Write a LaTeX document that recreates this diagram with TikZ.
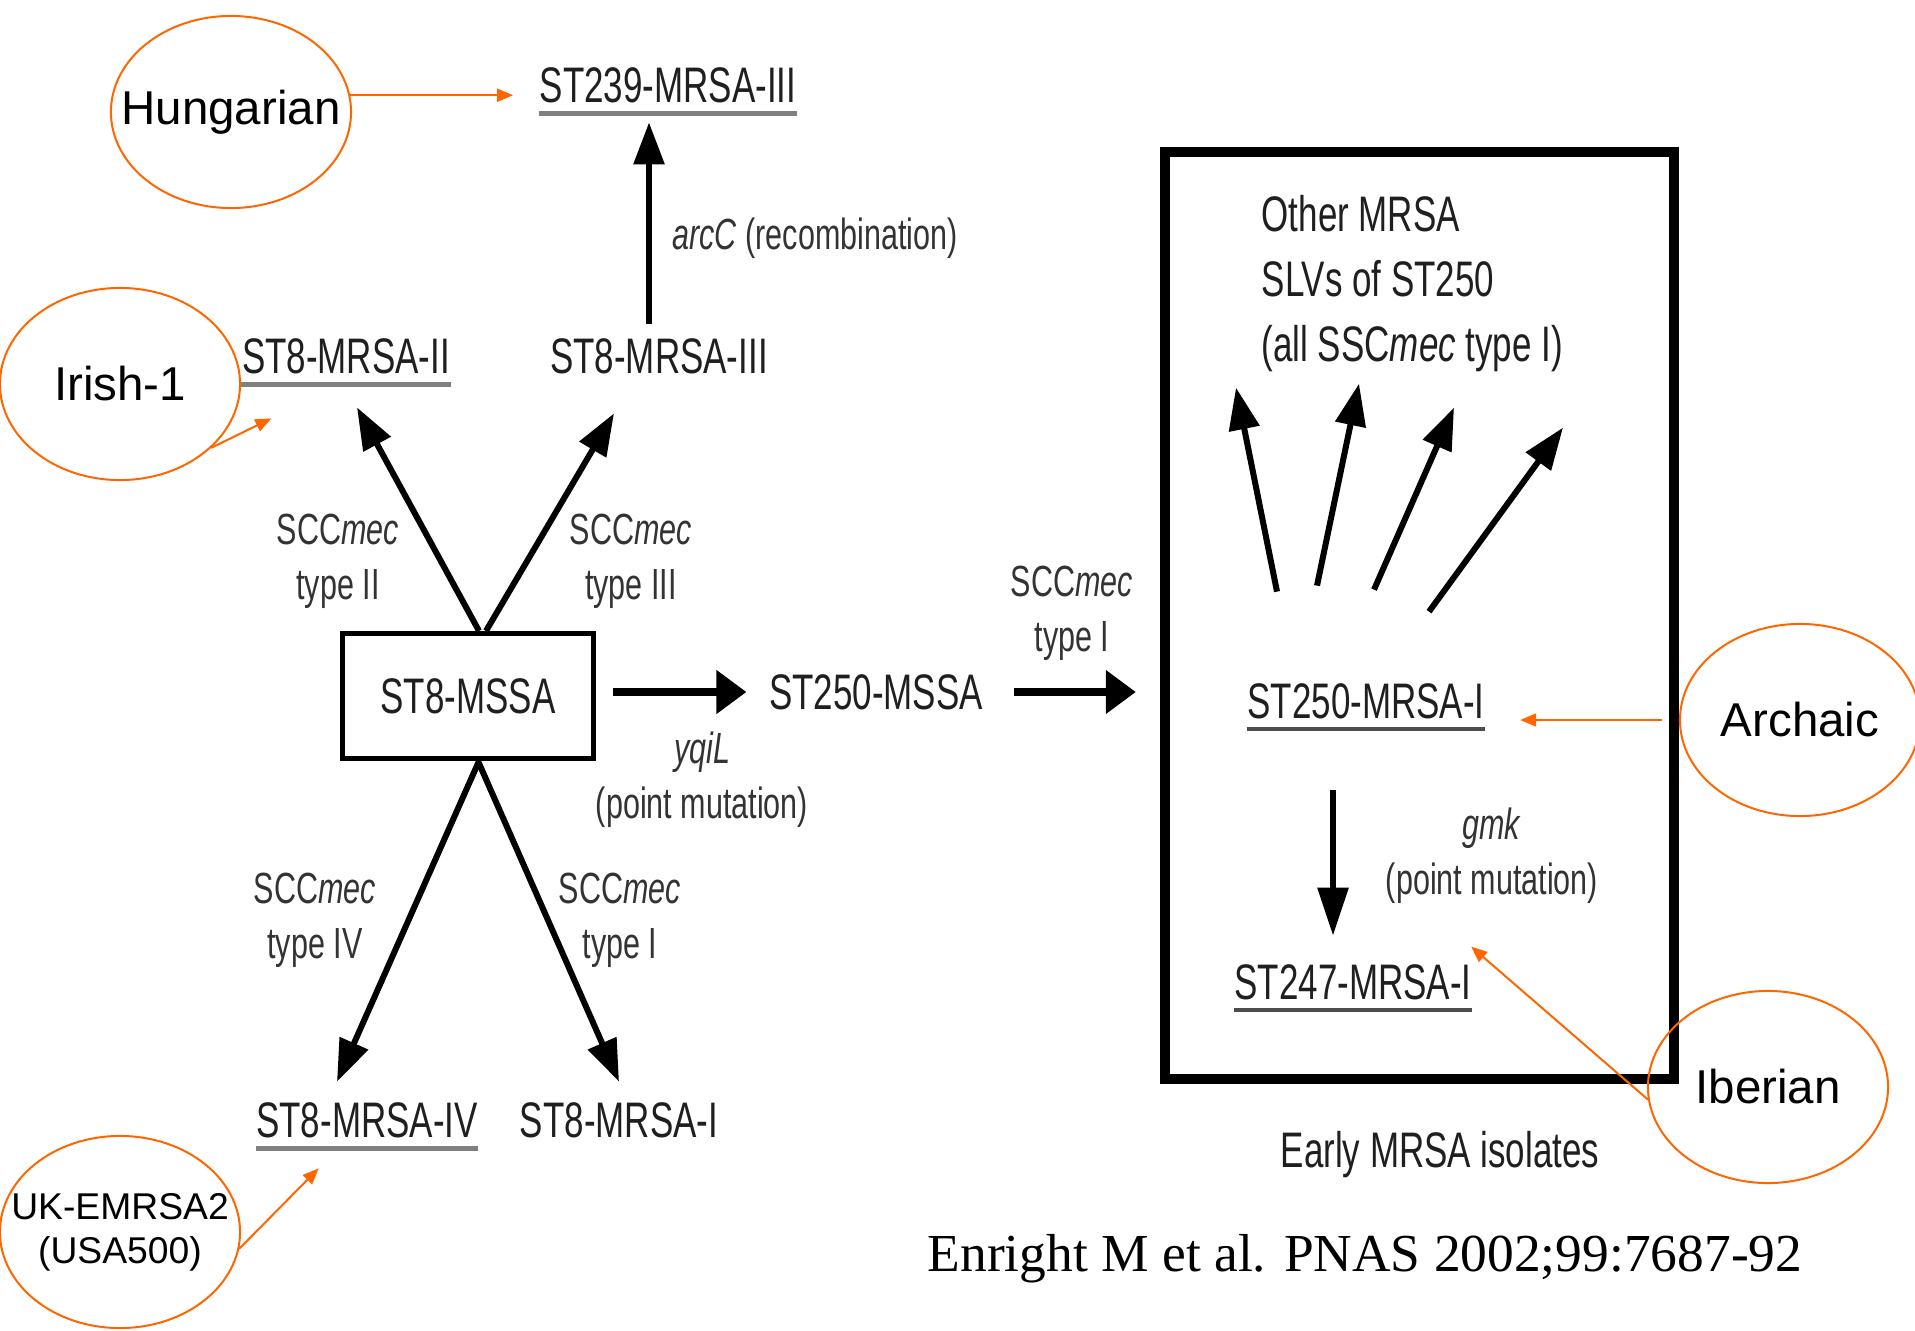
\documentclass[tikz,border=0pt]{standalone}
\usepackage{fontspec}
\usepackage{tikz}
\usetikzlibrary{arrows.meta,shapes.geometric,calc}

\newfontfamily\condsans[FakeStretch=0.7]{Liberation Sans}
\newfontfamily\plainsans{Liberation Sans}
\newfontfamily\serifcite{Liberation Serif}
\definecolor{ornge}{RGB}{255,102,0}

\tikzset{
  strain/.style={inner sep=0pt, text=black!88, font=\condsans\fontsize{14.2}{18.5}\selectfont},
  lbl/.style={inner sep=0pt, align=center, text=black!80, font=\condsans\fontsize{12.4}{15.6}\selectfont},
  clone/.style={ellipse, draw=ornge, line width=0.02cm, minimum width=2.4cm, minimum height=1.92cm,
    inner xsep=-0.4cm, inner ysep=0pt, align=center, font=\plainsans\fontsize{13.5}{16}\selectfont},
  arr/.style={line width=0.06cm, -{Triangle[length=0.42cm,width=0.3cm]}},
  darr/.style={line width=0.06cm, -{Triangle[length=0.48cm,width=0.3cm]}},
  harr/.style={line width=0.08cm, -{Triangle[length=0.3cm,width=0.42cm]}},
  oarr/.style={draw=ornge, line width=0.02cm, -{Triangle[length=0.16cm,width=0.13cm]}},
  ulgray/.style={draw=black!50, line width=0.05cm},
  uldark/.style={draw=black!70, line width=0.04cm}
}

\begin{document}
\begin{tikzpicture}[x=0.01cm, y=-0.01cm]
\useasboundingbox (0,0) rectangle (1915,1330);

% strains
\node[strain] (mrsa239) at (668,85) {ST239-MRSA-III};
\node[strain] (mrsa8ii) at (346,356) {ST8-MRSA-II};
\node[strain] (mrsa8iii) at (659,356) {ST8-MRSA-III};
\node[strain, draw=black, line width=0.05cm, minimum width=2.51cm, minimum height=1.25cm] (mssa8) at (468,696) {ST8-MSSA};
\node[strain] (mssa250) at (876,692) {ST250-MSSA};
\node[strain] (mrsa8iv) at (367,1120) {ST8-MRSA-IV};
\node[strain] (mrsa8i) at (619,1120) {ST8-MRSA-I};

\node[draw=black, line width=0.1cm, minimum width=5.09cm, minimum height=9.27cm] (earlybox) at (1419.5,615.5) {};
\node[strain, align=left, anchor=west] (othermrsa) at (1261,284) {Other MRSA\\SLVs of ST250\\(all SSC\textit{mec} type I)};
\node[strain] (mrsa250) at (1366,701) {ST250-MRSA-I};
\node[strain] (mrsa247) at (1353,982) {ST247-MRSA-I};
\node[strain] (earlylbl) at (1440,1155) {Early MRSA isolates};

\node[font=\serifcite\fontsize{15.2}{18}\selectfont, inner sep=0pt] (enright) at (1365,1259) {Enright M et al. PNAS 2002;99:7687-92};

% mutation labels
\node[lbl] (arcc) at (815,238) {\textit{arcC} (recombination)};
\node[lbl] (sccii) at (338,561) {SCC\textit{mec}\\type II};
\node[lbl] (scciii) at (631,561) {SCC\textit{mec}\\type III};
\node[lbl] (scci250) at (1072,613) {SCC\textit{mec}\\type I};
\node[lbl] (yqil) at (702,780) {\textit{yqiL}\\(point mutation)};
\node[lbl] (scciv) at (315,920) {SCC\textit{mec}\\type IV};
\node[lbl] (scci) at (620,920) {SCC\textit{mec}\\type I};
\node[lbl] (gmk) at (1492,856) {\textit{gmk}\\(point mutation)};

% clone names
\node[clone] (hungarian) at (231,112) {Hungarian};
\node[clone] (irish) at (120,384) {Irish-1};
\node[clone, font=\plainsans\fontsize{10.6}{12.5}\selectfont] (ukemrsa) at (120,1232) {UK-EMRSA2\\(USA500)};
\node[clone] (archaic) at (1800,720) {Archaic};
\node[clone] (iberian) at (1768,1087) {Iberian};

\foreach \n in {mrsa239,mrsa8ii,mrsa8iv}
   \draw[ulgray] ($(\n.south west)+(0,10)$) -- ($(\n.south east)+(0,10)$);
\foreach \n in {mrsa250,mrsa247}
   \draw[uldark] ($(\n.south west)+(0,10)$) -- ($(\n.south east)+(0,10)$);

\draw[arr] ($(mrsa8iii.north)+(-10,-14)$) -- ($(mrsa239.south)+(-19,19)$);
\draw[arr] ($(mssa8.north)+(11,0)$) -- ($(mrsa8ii.south)+(11,33)$);
\draw[arr] ($(mssa8.north)+(18,0)$) -- ($(mrsa8iii.south)+(-45,39)$);
\draw[arr] ($(mssa8.south)+(11,0)$) -- ($(mrsa8iv.north)+(-30,-20)$);
\draw[arr] ($(mssa8.south)+(10,0)$) -- ($(mrsa8i.north)+(0,-20)$);
\draw[harr] ($(mssa8.east)+(17,-4)$) -- ($(mssa250.west)+(-22,0)$);
\draw[harr] ($(mssa250.east)+(30,0)$) -- ($(mssa250.east -| earlybox.west)+(-24,0)$);
\draw[darr] ($(mrsa250.south)+(-33,71)$) -- ($(mrsa247.north)+(-20,-28)$);

\foreach \sx/\sy/\tx/\ty in {-89/-91/-130/-295, -49/-97/-7/-299, 8/-93/88/-275, 63/-71/197/-255}
   \draw[arr] ($(mrsa250.north)+(\sx,\sy)$) -- ($(mrsa250.north)+(\tx,\ty)$);

\draw[oarr] (hungarian.8) -- ($(hungarian.8 -| mrsa239.west)+(-26,0)$);
\draw[oarr] (irish.-35) -- ($(mrsa8ii.south west)+(30,44)$);
\draw[oarr] (ukemrsa.-8) -- ($(mrsa8iv.south west)+(63,30)$);
\draw[oarr] ($(archaic.west)+(-17,0)$) -- ($(archaic.west -| mrsa250.east)+(35,0)$);
\draw[oarr] (iberian.186) -- ($(mrsa247.north east)+(-1,-17)$);

\end{tikzpicture}
\end{document}
